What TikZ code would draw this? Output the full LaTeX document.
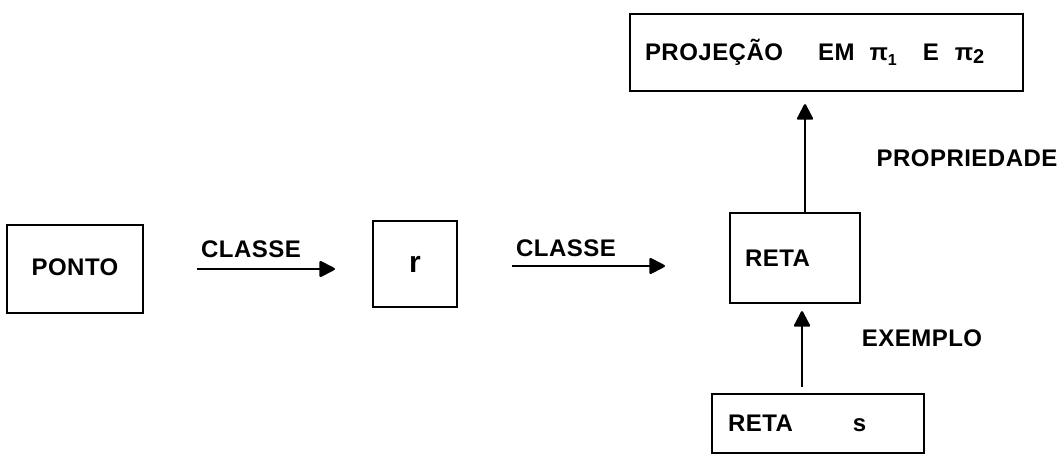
\documentclass[tikz,border=0pt]{standalone}
\usepackage{fontspec}
\setmainfont{Liberation Sans}[LetterSpace=2]
\usetikzlibrary{arrows.meta}
\begin{document}
\begin{tikzpicture}[x=1pt,y=-1pt,
  txt/.style={font=\fontsize{24}{26}\selectfont\bfseries},
  box/.style={draw,line width=2.3pt,inner sep=0pt,txt},
  lbl/.style={inner sep=0pt,txt},
  arr/.style={line width=2.3pt,-{Triangle[width=17pt,length=17pt,round]}}]
\useasboundingbox (0,0) rectangle (1064,465);
% boxes
\node[box,minimum width=136pt,minimum height=88pt] (ponto) at (75,269) {\raisebox{3pt}{PONTO}};
\node[box,minimum width=84pt,minimum height=86pt] (r) at (415,264) {\raisebox{-4pt}{\fontsize{30}{30}\selectfont r}\hspace{16pt}};
\node[box,minimum height=90pt,inner xsep=15pt,text width=100pt,align=left] (reta) at (795,258) {RETA};
\node[box,minimum height=59pt,inner xsep=16pt,text width=180pt,align=left] (retas) at (818,423.5) {RETA\hspace{60pt}s};
\node[box,minimum height=77pt,inner xsep=15pt,text width=363pt,align=left] (proj) at (826.5,52.5)
  {PROJEÇÃO\hspace{35pt}EM\hspace{15pt}π\raisebox{-5pt}{\fontsize{16}{16}\selectfont 1}\hspace{26pt}E\hspace{16pt}π\raisebox{-3pt}{\fontsize{20}{20}\selectfont 2}};
% horizontal arrows
\coordinate (a1s) at (197,269);
\coordinate (a1e) at (335,269);
\draw[arr] (a1s) -- (a1e);
\node[lbl] (c1) at (251,249) {CLASSE};
\coordinate (a2s) at (512,266);
\coordinate (a2e) at (665,266);
\draw[arr] (a2s) -- (a2e);
\node[lbl] (c2) at (566,248) {CLASSE};
% vertical arrows
\draw[arr,shorten >=12pt] ([xshift=10pt]reta.north) -- ([xshift=10pt]reta.north |- proj.south);
\node[lbl] (prop) at (967,158) {PROPRIEDADE};
\draw[arr,shorten <=6pt,shorten >=7pt] ([xshift=-16pt]retas.north) -- ([xshift=-16pt]retas.north |- reta.south);
\node[lbl] (ex) at (922,338) {EXEMPLO};
\end{tikzpicture}
\end{document}
